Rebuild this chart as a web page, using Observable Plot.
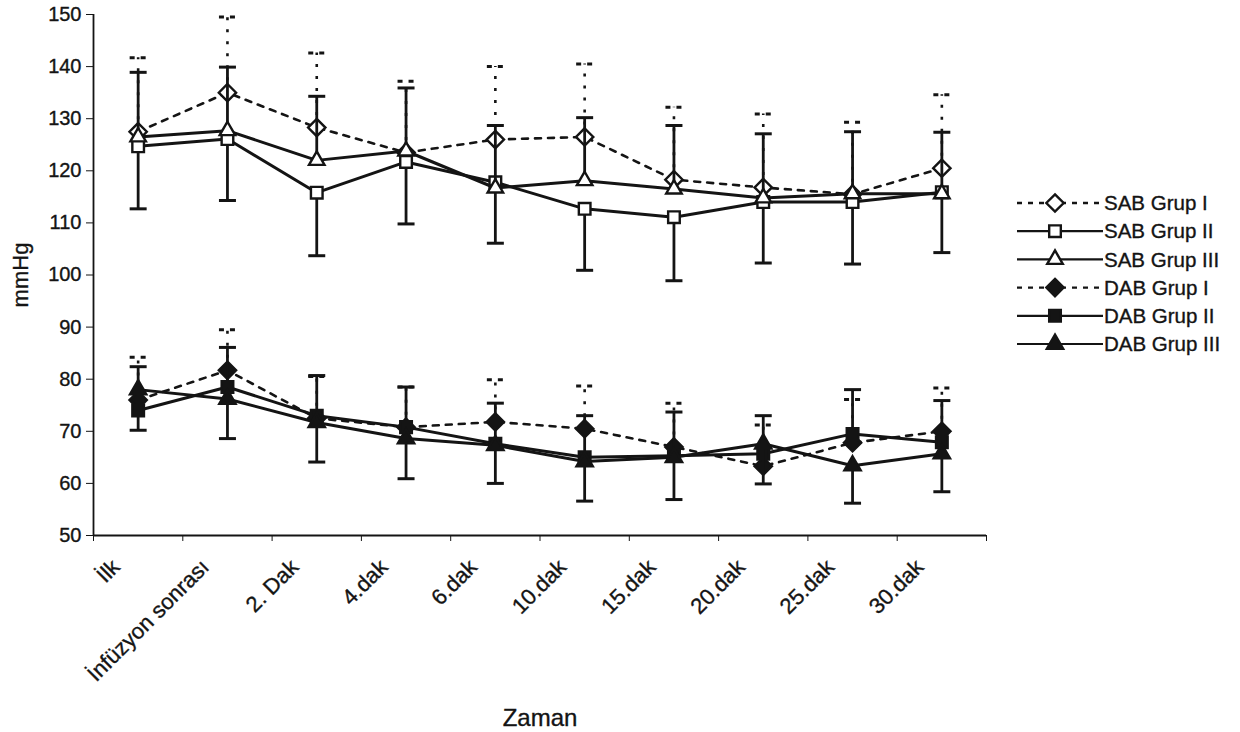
<!DOCTYPE html>
<html>
<head>
<meta charset="utf-8">
<script src="https://cdn.jsdelivr.net/npm/d3@7"></script>
<script src="https://cdn.jsdelivr.net/npm/@observablehq/plot@0.6"></script>
<style>
  body { margin: 0; background: #fff; font-family: "Liberation Sans", Arial, sans-serif; }
  #wrap { position: relative; width: 1240px; height: 732px; overflow: hidden; }
  #legend { position: absolute; left: 1000px; top: 185px; }
  #wrap svg text { stroke: #141414; stroke-width: 0.35px; }
</style>
</head>
<body>
<div id="wrap"></div>
<script>
// ---- data ----
const categories = ["İlk", "İnfüzyon sonrası", "2. Dak", "4.dak", "6.dak", "10.dak", "15.dak", "20.dak", "25.dak", "30.dak"];
const seriesNames = ["SAB Grup I", "SAB Grup II", "SAB Grup III", "DAB Grup I", "DAB Grup II", "DAB Grup III"];

const sabGrup1   = [127.5, 135.0, 128.3, 123.5, 126.0, 126.5, 118.3, 116.8, 115.5, 120.5];
const sabGrup1SD = [14.2, 14.5, 14.3, 13.7, 14.0, 14.0, 13.9, 14.1, 13.8, 14.1];
const sabGrup2   = [124.7, 126.1, 115.8, 121.7, 117.8, 112.7, 111.1, 114.0, 114.0, 115.9];
const sabGrup2SD = [12.0, 11.8, 12.1, 11.9, 11.7, 11.8, 12.2, 11.7, 11.9, 11.6];
const sabGrup3   = [126.5, 127.7, 122.0, 123.8, 116.7, 118.1, 116.5, 114.8, 115.6, 115.6];
const sabGrup3SD = [12.4, 12.2, 12.3, 12.1, 12.0, 12.1, 12.2, 12.3, 11.9, 11.8];
const dabGrup1   = [76.0, 81.7, 72.5, 70.8, 71.8, 70.5, 67.0, 63.3, 67.8, 70.0];
const dabGrup1SD = [8.2, 7.8, 8.0, 7.7, 8.1, 8.2, 8.4, 7.9, 8.3, 8.3];
const dabGrup2   = [74.0, 78.5, 73.0, 70.8, 67.6, 65.0, 65.3, 65.7, 69.5, 67.9];
const dabGrup2SD = [8.4, 7.6, 7.7, 7.7, 7.8, 8.0, 8.4, 7.3, 8.5, 8.0];
const dabGrup3   = [78.0, 76.2, 71.7, 68.6, 67.3, 64.2, 65.0, 67.6, 63.4, 65.7];
const dabGrup3SD = [7.8, 7.6, 7.6, 7.7, 7.3, 7.6, 8.1, 7.7, 7.2, 7.3];

const yTicks = [50, 60, 70, 80, 90, 100, 110, 120, 130, 140, 150];

// ---- series configuration (which side the error bar is drawn on, look) ----
const means = [sabGrup1, sabGrup2, sabGrup3, dabGrup1, dabGrup2, dabGrup3];
const sds   = [sabGrup1SD, sabGrup2SD, sabGrup3SD, dabGrup1SD, dabGrup2SD, dabGrup3SD];
const errSide = [1, -1, 1, 1, 1, -1];
const dashed  = [true, false, false, true, false, false];
const symbols = [d3.symbolDiamond2, d3.symbolSquare2, d3.symbolTriangle2, d3.symbolDiamond2, d3.symbolSquare2, d3.symbolTriangle2];
const filled  = [false, false, false, true, true, true];
const radius  = [7.8, 7.4, 7.4, 7.8, 7.4, 7.8];

const INK = "#141414";

// horizontal cap symbol for error bars
const capSymbol = {
  draw(context, size) {
    const w = Math.sqrt(size);
    context.moveTo(-w, 0);
    context.lineTo(w, 0);
  }
};

const rowsBySeries = means.map((m, s) => m.map((v, i) => ({
  series: seriesNames[s], cat: categories[i], x: i + 0.5, y: v, end: v + errSide[s] * sds[s][i]
})));

const seriesMarks = rowsBySeries.flatMap((rows, s) => [
  Plot.line(rows, {x: "x", y: "y", stroke: INK, strokeWidth: dashed[s] ? 2.6 : 3,
    strokeDasharray: dashed[s] ? "6,7" : null, strokeLinejoin: "round"}),
  Plot.ruleX(rows, {x: "x", y1: "y", y2: "end", stroke: INK, strokeWidth: dashed[s] ? 2.6 : 2.8,
    strokeDasharray: dashed[s] ? "3,9" : null}),
  Plot.dot(rows, {x: "x", y: "end", symbol: capSymbol, r: 8.5 / Math.sqrt(Math.PI), stroke: INK,
    strokeWidth: 3, strokeDasharray: dashed[s] ? "5,6" : null, fill: "none"}),
  Plot.dot(rows, {x: "x", y: "y", symbol: symbols[s], r: radius[s],
    fill: filled[s] ? INK : "white", stroke: INK, strokeWidth: 2.4})
]);

const chart = Plot.plot({
  width: 1000,
  height: 732,
  marginLeft: 93,
  marginRight: 14,
  marginTop: 14,
  marginBottom: 197,
  style: {fontFamily: "'Liberation Sans', Arial, sans-serif", color: INK, background: "white", overflow: "visible"},
  x: {domain: [0, categories.length]},
  y: {domain: [50, 150]},
  marks: [
    Plot.axisY({ticks: yTicks, tickSize: 7, tickPadding: 5, fontSize: 20, label: null}),
    Plot.axisX({ticks: d3.range(categories.length + 1), tickSize: 6, tickFormat: () => "", label: null}),
    Plot.ruleX([0], {stroke: INK, strokeWidth: 1.8}),
    Plot.ruleY([50], {stroke: INK, strokeWidth: 1.8}),
    Plot.text(["mmHg"], {text: d => d, frameAnchor: "left", rotate: -90, textAnchor: "middle",
      lineAnchor: "middle", dx: -73, fontSize: 22, fill: INK}),
    Plot.text(categories, {x: (d, i) => i + 0.5, text: d => d, frameAnchor: "bottom", rotate: -45,
      textAnchor: "end", lineAnchor: "middle", fontSize: 22, dx: -22, dy: 28, fill: INK}),
    Plot.text(["Zaman"], {text: d => d, frameAnchor: "bottom", textAnchor: "middle", dy: 190, fontSize: 24, fill: INK}),
    ...seriesMarks
  ]
});
document.getElementById("wrap").appendChild(chart);

// ---- legend (drawn with d3, right of the chart) ----
const leg = d3.select("#wrap").append("svg").attr("id", "legend").attr("width", 240).attr("height", 185)
  .style("font-family", "'Liberation Sans', Arial, sans-serif");
seriesNames.forEach((name, s) => {
  const g = leg.append("g").attr("transform", `translate(0,${18 + s * 28.2})`);
  g.append("line").attr("x1", 17).attr("x2", 103).attr("y1", 0).attr("y2", 0)
    .attr("stroke", INK).attr("stroke-width", dashed[s] ? 2.4 : 2.2)
    .attr("stroke-dasharray", dashed[s] ? "5,6" : null);
  g.append("path").attr("transform", "translate(55,0)")
    .attr("d", d3.symbol(symbols[s], Math.PI * radius[s] * radius[s])())
    .attr("fill", filled[s] ? INK : "white").attr("stroke", INK).attr("stroke-width", 2.4);
  g.append("text").attr("x", 104).attr("y", 0).attr("dy", "0.35em").attr("font-size", 20.5)
    .attr("fill", INK).text(name);
});
</script>
</body>
</html>
